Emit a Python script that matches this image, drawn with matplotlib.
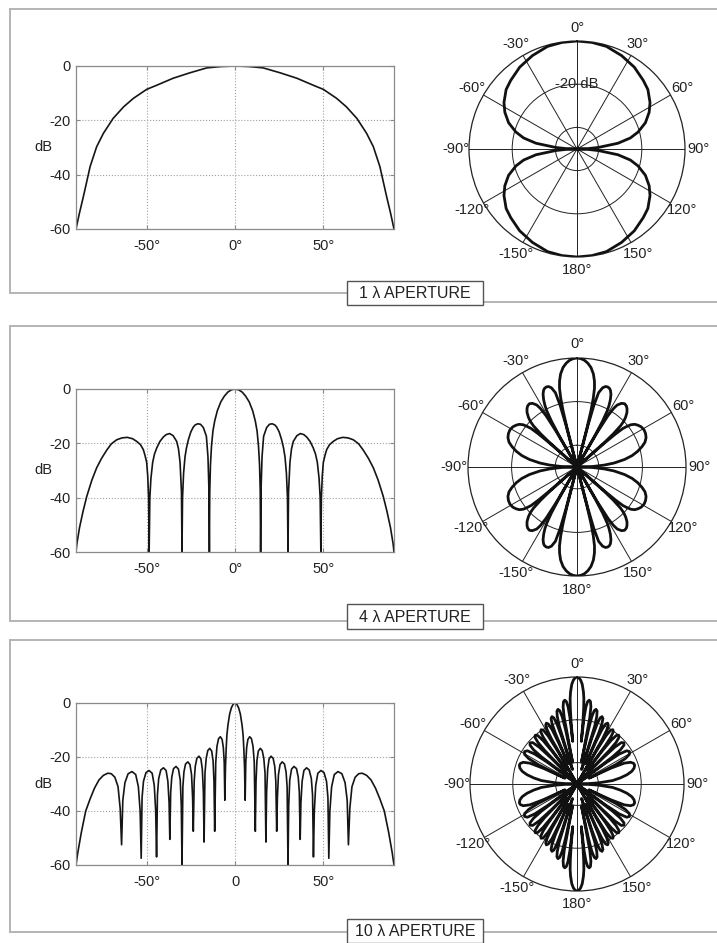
import numpy as np
import matplotlib
matplotlib.use("Agg")
import matplotlib.pyplot as plt
from matplotlib.patches import Rectangle

plt.rcParams['font.family'] = ['Liberation Sans', 'DejaVu Sans']
plt.rcParams['font.size'] = 10.5

TXT = '#222222'

# one side of each pattern (0..90 deg), the other side is its mirror
theta_1 = [0, 8, 16, 25.5, 35, 44, 50, 57.5, 63, 69, 74.5, 78.3, 82, 85.8, 88, 90]
db_1 = [0, -0.2, -0.7, -2.5, -4.5, -7.0, -8.6, -11.9, -15.0, -19.3, -24.8, -29.7,
        -37, -48, -54, -60]

theta_4 = [0, 2, 4, 6, 8, 10, 11.5, 12.5, 13.3, 13.9, 14.3, 14.5,
           14.8, 15.3, 16.2, 17.9, 19.5, 21.0, 22.5, 23.6, 25.0, 26.4, 27.5, 28.3, 29.1, 29.7, 30.0,
           30.3, 31.1, 32.0, 33.0, 35.0, 37.0, 39.0, 40.6, 42.5, 44.3, 45.6, 46.6, 47.6, 48.2, 48.6,
           48.9, 49.4, 50.0, 51.0, 51.9, 53.5, 55.6, 58.0, 61.0, 64.0, 67.0, 70.0, 72.6, 75.5,
           78.3, 81.0, 83.9, 86.0, 88.0, 89.5, 90.0]
db_4 = [0, -0.3, -1.1, -2.6, -4.7, -8.0, -11.8, -15.5, -21, -28, -38, -60,
        -36, -25, -17.4, -14.2, -13.0, -12.8, -13.2, -14.0, -15.8, -18.7, -21.8, -25, -31, -40, -60,
        -38, -27, -22, -19.3, -17.2, -16.4, -16.8, -17.7, -19.3, -21.7, -24, -27, -33, -40, -60,
        -40, -32, -27, -24.3, -22.3, -20.5, -19.3, -18.3, -17.8, -18.0, -18.7, -20.2, -22.5, -25.5,
        -29.0, -33.5, -39.5, -45, -51, -57, -60]

theta_10 = [0, 1, 2, 3, 4, 4.6, 5.0, 5.4, 5.75,
            6.1, 6.6, 7.3, 8.3, 9.3, 10.2, 10.9, 11.5,
            11.9, 12.4, 13.2, 14.3, 15.4, 16.3, 17.0, 17.5,
            17.9, 18.5, 19.3, 20.4, 21.6, 22.5, 23.1, 23.6,
            24.0, 24.6, 25.5, 26.7, 28.0, 28.9, 29.5, 30.0,
            30.4, 31.0, 32.0, 33.4, 34.8, 35.8, 36.4, 36.9,
            37.3, 38.0, 39.0, 40.5, 42.0, 43.2, 43.9, 44.4,
            44.9, 45.7, 46.9, 48.7, 50.4, 51.8, 52.6, 53.1,
            53.7, 54.7, 56.2, 58.3, 60.5, 62.3, 63.5, 64.2,
            65.0, 66.2, 68.0, 70.0, 72.0, 74.5, 77.0, 79.5, 82.0, 84.5, 87.0, 89.0, 90.0]
db_10 = [0, -0.4, -1.7, -4.0, -8.2, -12, -17, -24, -36,
         -22, -16.5, -13.5, -12.5, -13.2, -16, -22, -47.5,
         -29, -21.5, -17.8, -16.8, -17.6, -20.5, -26, -51.5,
         -33, -24.5, -20.7, -19.7, -20.5, -23.5, -29, -47.5,
         -35, -26.5, -22.8, -21.8, -22.6, -25.5, -31, -60,
         -38, -28.5, -24.5, -23.5, -24.3, -27.5, -33, -50.5,
         -37, -29, -25, -24.0, -24.8, -28, -34, -57,
         -40, -30.5, -26, -25.0, -25.8, -29, -35, -57.5,
         -40, -31, -26.5, -25.4, -26.2, -29.5, -36, -52.5,
         -39, -31, -27.5, -26.2, -26.0, -26.8, -28.5, -31.5, -35.5, -40, -48, -55.5, -60]

apertures = ['1 \u03bb APERTURE', '4 \u03bb APERTURE', '10 \u03bb APERTURE']
zero_labels = ['0\u00b0', '0\u00b0', '0']
polar_labels = {0: '0\u00b0', 30: '30\u00b0', 60: '60\u00b0', 90: '90\u00b0', 120: '120\u00b0',
                150: '150\u00b0', 180: '180\u00b0', -150: '-150\u00b0', -120: '-120\u00b0',
                -90: '-90\u00b0', -60: '-60\u00b0', -30: '-30\u00b0'}

R_MIN = -60          # dB at the centre of the polar plots
RINGS = [-48, -24]   # inner circles at 0.2 and 0.6 of the radius


def mirror(th, db):
    th = np.asarray(th, float)
    db = np.asarray(db, float)
    return np.concatenate([-th[::-1], th[1:]]), np.concatenate([db[::-1], db[1:]])


W, H = 717, 943
fig = plt.figure(figsize=(W / 100, H / 100), dpi=100)

# panel frames and caption boxes, drawn in pixel units
bg = fig.add_axes([0, 0, 1, 1])
bg.set_xlim(0, W)
bg.set_ylim(H, 0)
bg.axis('off')
frame_kw = dict(color='#b4b4b4', lw=1.4)
# (top, bottom left, bottom right, box top, box bottom)
frames = [(9, 293, 302, 281, 305), (326, 621, 621, 604, 629), (640, 932, 932, 919, 943)]
for (top, bl, br, bt, bb), cap in zip(frames, apertures):
    bg.plot([10, 10], [top, bl], **frame_kw)
    bg.plot([10, W], [top, top], **frame_kw)
    bg.plot([10, 347], [bl, bl], **frame_kw)
    bg.plot([483, W], [br, br], **frame_kw)
    bg.add_patch(Rectangle((347, bt), 136, bb - bt, facecolor='white',
                           edgecolor='#555555', lw=1.0, zorder=3))
    bg.text(415, (bt + bb) / 2 + 1, cap, ha='center', va='center', color=TXT,
            fontsize=11.5, zorder=4)

rect_pos = [[76 / W, 1 - 229 / H, 318 / W, 163 / H],
            [76 / W, 1 - 552 / H, 318 / W, 163 / H],
            [76 / W, 1 - 865 / H, 318 / W, 162 / H]]
polar_pos = [[469 / W, 1 - 257 / H, 216 / W, 216 / H],
             [468 / W, 1 - 576 / H, 218 / W, 218 / H],
             [470 / W, 1 - 891 / H, 214 / W, 214 / H]]

data = [(theta_1, db_1), (theta_4, db_4), (theta_10, db_10)]

for i, (th, db) in enumerate(data):
    th_f, db_f = mirror(th, db)

    # rectangular dB plot
    ax = fig.add_axes(rect_pos[i])
    ax.plot(th_f, db_f, color='#151515', lw=1.2)
    ax.set_xlim(-90, 90)
    ax.set_ylim(-60, 0)
    ax.set_xticks([-50, 0, 50])
    ax.set_xticklabels(['-50\u00b0', zero_labels[i], '50\u00b0'])
    ax.set_yticks([-60, -40, -20, 0])
    ax.set_yticklabels(['-60', '-40', '-20', '0'])
    ax.grid(True, ls=':', color='#a0a0a0', lw=0.8)
    ax.tick_params(direction='in', length=3, color='#888888', labelcolor=TXT,
                   labelsize=10.5, top=True, right=True)
    ax.tick_params(axis='x', pad=7)
    ax.tick_params(axis='y', pad=4)
    for s in ax.spines.values():
        s.set_color('#8a8a8a')
        s.set_linewidth(0.9)
    ax.text(-0.104, 0.5, 'dB', transform=ax.transAxes, ha='center', va='center',
            color=TXT, fontsize=10.5)

    # polar plot, front and back lobes, clipped at the centre value
    pth = np.concatenate([th_f, 180 - th_f[::-1]])
    pdb = np.concatenate([db_f, db_f[::-1]])
    pa = fig.add_axes(polar_pos[i], projection='polar')
    pa.set_theta_zero_location('N')
    pa.set_theta_direction(-1)
    pa.plot(np.deg2rad(pth), np.clip(pdb, R_MIN, 0), color='#111111', lw=2.0, zorder=3)
    pa.set_ylim(R_MIN, 0)
    pa.set_yticks(RINGS)
    pa.set_yticklabels([])
    pa.set_xticks(np.deg2rad(np.arange(0, 360, 30)))
    pa.set_xticklabels([])
    pa.tick_params(length=0)
    pa.grid(True, color='#222222', lw=0.7, ls='-')
    pa.spines['polar'].set_color('#222222')
    pa.spines['polar'].set_linewidth(0.9)
    for a, lab in polar_labels.items():
        pa.text(np.deg2rad(a), 0.125 * -R_MIN, lab, ha='center', va='center', color=TXT,
                fontsize=10.5, clip_on=False)
    if i == 0:
        pa.text(0, RINGS[1], '-20 dB', ha='center', va='center', color=TXT,
                fontsize=10.5, zorder=4)

fig.savefig('out.png', dpi=100)
